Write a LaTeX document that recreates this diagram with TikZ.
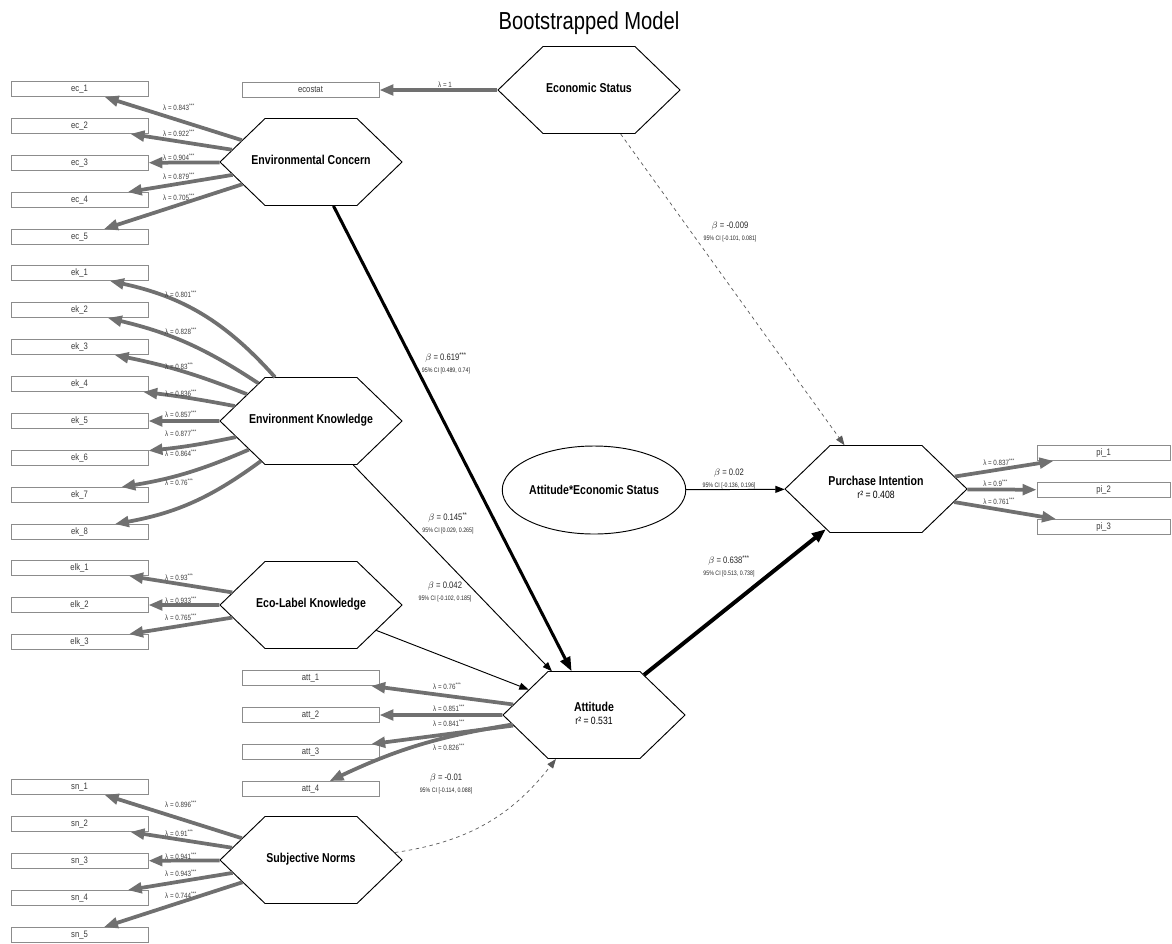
\documentclass[tikz,border=0pt]{standalone}
\usepackage{fontspec}
\setmainfont{Liberation Sans}[FakeStretch=0.82]
\usepackage{xcolor}
\usetikzlibrary{arrows.meta,shapes.symbols,shapes.geometric}
\definecolor{LoadGray}{RGB}{112,112,112}
\definecolor{BoxGray}{RGB}{140,140,140}
\definecolor{TxtGray}{RGB}{60,60,60}
\tikzset{
  ind/.style={rectangle,draw=BoxGray,line width=0.7pt,fill=white,
              minimum width=41.1mm,minimum height=4.5mm,inner sep=0pt,
              font=\fontsize{8}{9}\selectfont,text=TxtGray},
  lat/.style={signal,signal to=west and east,signal pointer angle=88,
              draw=black,line width=0.8pt,fill=white,
              minimum width=54.6mm,minimum height=26.1mm,inner sep=0pt,
              font=\fontsize{11}{12}\selectfont\bfseries},
  inter/.style={ellipse,draw=black,line width=0.8pt,fill=white,
                minimum width=54.9mm,minimum height=26.4mm,inner sep=0pt,
                font=\fontsize{11}{12}\selectfont\bfseries},
  load/.style={-{Triangle[length=12pt,width=9pt]},line width=3.2pt,LoadGray},
  strong/.style={-{Triangle[length=12pt,width=9pt]},line width=2.6pt,black},
  weak/.style={-{Triangle[length=8pt,width=6pt]},line width=0.8pt,black},
  nsig/.style={weak,dashed,line width=0.6pt,black!65},
  lam/.style={font=\fontsize{6.5}{7.5}\selectfont,text=TxtGray,anchor=west,inner sep=0pt},
  beta/.style={font=\fontsize{8}{9}\selectfont,text=black!85,align=center,inner sep=0pt},
}
% text of a construct, kept out of the shape's width
\newcommand{\hextext}[1]{\makebox[0pt]{\begin{tabular}{@{}c@{}}#1\end{tabular}}}
\newcommand{\rsq}[1]{\\[-1pt]{\mdseries\fontsize{9}{10}\selectfont r² = #1}}
\newcommand{\ci}[1]{\\[1pt]{\fontsize{5.5}{6.5}\selectfont 95\% CI [#1]}}

\begin{document}
\begin{tikzpicture}[x=0.3mm,y=-0.3mm]
  \useasboundingbox (0,0) rectangle (1172,943);
  \node[font=\fontsize{21}{25}\selectfont] (title) at (589,23) {Bootstrapped Model};

  % constructs
  \node[lat] (es)  at (589,90)  {\hextext{Economic Status}};
  \node[lat] (ec)  at (311,162) {\hextext{Environmental Concern}};
  \node[lat] (ek)  at (311,421) {\hextext{Environment Knowledge}};
  \node[lat] (elk) at (311,605) {\hextext{Eco-Label Knowledge}};
  \node[lat] (sn)  at (311,860) {\hextext{Subjective Norms}};
  \node[lat] (att) at (594,715) {\hextext{Attitude\rsq{0.531}}};
  \node[lat] (pi)  at (876,489) {\hextext{Purchase Intention\rsq{0.408}}};
  \node[inter] (ae) at (594,490) {Attitude*Economic Status};

  % indicators
  \node[ind] (ecostat) at (310.5,90) {ecostat};
  \foreach \i/\y in {1/89,2/126,3/163,4/200,5/237}
    \node[ind] (ec\i) at (79.5,\y) {ec\_\i};
  \foreach \i/\y in {1/273,2/310,3/347,4/384,5/421,6/458,7/495,8/532}
    \node[ind] (ek\i) at (79.5,\y) {ek\_\i};
  \foreach \i/\y in {1/568,2/605,3/642}
    \node[ind] (elk\i) at (79.5,\y) {elk\_\i};
  \foreach \i/\y in {1/678,2/715,3/752,4/789}
    \node[ind] (att\i) at (310.5,\y) {att\_\i};
  \foreach \i/\y in {1/787,2/824,3/861,4/898,5/935}
    \node[ind] (sn\i) at (79.5,\y) {sn\_\i};
  \foreach \i/\y in {1/453,2/490,3/527}
    \node[ind,minimum width=39.9mm] (pi\i) at (1103.5,\y) {pi\_\i};

  % loadings
  \draw[load,line width=3.5pt] (es) -- (ecostat);
  \node[lam] at (438,85) {λ = 1};
  \foreach \i/\l/\ly in {1/0.843/107,2/0.922/133,3/0.904/157,4/0.879/176,5/0.705/197}{
    \draw[load] (ec) -- (ec\i);
    \node[lam] at (163,\ly) {λ = \l\textsuperscript{***}};
  }
  \foreach \i/\b/\l/\ly in {1/18/0.801/294,2/10/0.828/331,3/5/0.83/366,4/2/0.836/393,
                            5/0/0.857/414,6/-3/0.877/433,7/-7/0.864/453,8/-13/0.76/482}{
    \draw[load] (ek) to[bend right=\b] (ek\i);
    \node[lam] at (165,\ly) {λ = \l\textsuperscript{***}};
  }
  \foreach \i/\l/\ly in {1/0.93/577,2/0.933/600,3/0.765/617}{
    \draw[load] (elk) -- (elk\i);
    \node[lam] at (165,\ly) {λ = \l\textsuperscript{***}};
  }
  \foreach \i/\b/\l/\ly in {1/0/0.76/686,2/0/0.851/708,3/0/0.841/723,4/8/0.826/747}{
    \draw[load] (att) to[bend right=\b] (att\i);
    \node[lam] at (433,\ly) {λ = \l\textsuperscript{***}};
  }
  \foreach \i/\l/\ly in {1/0.896/804,2/0.91/833,3/0.941/856,4/0.943/873,5/0.744/895}{
    \draw[load] (sn) -- (sn\i);
    \node[lam] at (165,\ly) {λ = \l\textsuperscript{***}};
  }
  \foreach \i/\l/\ly in {1/0.837/462,2/0.9/483,3/0.761/501}{
    \draw[load] (pi) -- (pi\i);
    \node[lam] at (983,\ly) {λ = \l\textsuperscript{***}};
  }

  % structural paths
  \draw[strong] (ec) -- (att);
  \draw[weak] (ek) -- (att);
  \draw[weak] (elk) -- (att);
  \draw[nsig] (sn) to[bend right=22] (att);
  \draw[nsig] (es) -- (pi);
  \draw[weak] (ae) -- (pi);
  \draw[strong,line width=3.4pt] (att) -- (pi);

  \node[beta] (b1) at (446,363) {$\beta$ = 0.619\textsuperscript{***}\ci{0.489, 0.74}};
  \node[beta] (b2) at (730,232) {$\beta$ = -0.009\ci{-0.101, 0.081}};
  \node[beta] (b3) at (448,523) {$\beta$ = 0.145\textsuperscript{**}\ci{0.029, 0.265}};
  \node[beta] (b4) at (729,479) {$\beta$ = 0.02\ci{-0.136, 0.196}};
  \node[beta] (b5) at (729,566) {$\beta$ = 0.638\textsuperscript{***}\ci{0.513, 0.738}};
  \node[beta] (b6) at (445,592) {$\beta$ = 0.042\ci{-0.102, 0.185}};
  \node[beta] (b7) at (446,784) {$\beta$ = -0.01\ci{-0.114, 0.088}};
\end{tikzpicture}
\end{document}
